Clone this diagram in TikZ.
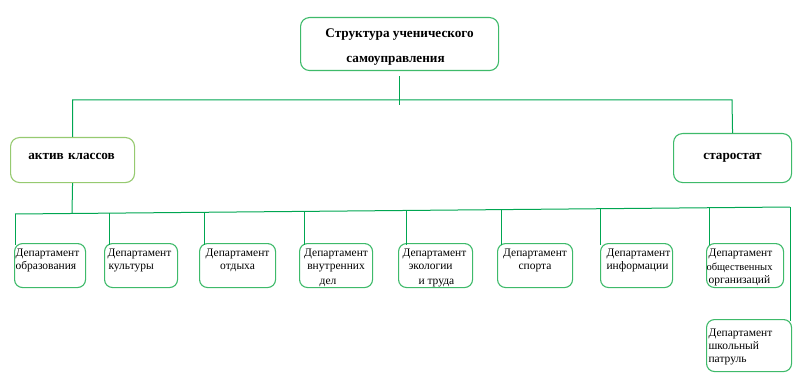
\documentclass[tikz,border=0pt]{standalone}
\usepackage{fontspec}
\setmainfont{Liberation Serif}
\definecolor{lgreen}{RGB}{0,166,81}
\definecolor{bgreen}{RGB}{62,186,106}
\definecolor{agreen}{RGB}{150,202,112}
\newcommand{\mybx}[3]{\parbox[c][#2][t]{#1}{#3}}
\newcommand{\dfont}{\fontsize{11.5}{12.5}\selectfont}
\tikzset{
  bx/.style={draw=bgreen, line width=1.1pt, rounded corners=9pt, inner sep=0pt, anchor=north west, fill=white},
  dept/.style={bx, rounded corners=8pt},
  conn/.style={draw=lgreen, line width=1pt},
}
\begin{document}
\begin{tikzpicture}[x=1pt,y=-1pt]
\useasboundingbox (0,0) rectangle (799,390);
% top level
\node[bx] (top) at (300,17) {\mybx{198pt}{53pt}{\centering\bfseries\fontsize{13.2}{25}\selectfont\rule{0pt}{20pt}Структура ученического\hspace*{10pt}\\самоуправления\hspace*{8pt}}};
\node[bx, draw=agreen] (active) at (10,137) {\mybx{124pt}{45pt}{\centering\bfseries\fontsize{13.2}{14}\selectfont\rule{0pt}{22pt}актив\hspace{1pt} классов\hspace*{2pt}}};
\node[bx] (staro) at (673,133) {\mybx{118pt}{49pt}{\centering\bfseries\fontsize{13.2}{14}\selectfont\rule{0pt}{26pt}старостат}};
% departments
\node[dept] (d1) at (14,243) {\mybx{71pt}{44pt}{\raggedright\dfont\rule{0pt}{13pt}\hspace*{1pt}Департамент\\\hspace*{1pt}образования}};
\node[dept] (d2) at (104,243) {\mybx{73pt}{44pt}{\raggedright\dfont\rule{0pt}{13pt}\hspace*{3pt}Департамент\\\hspace*{4pt}культуры}};
\node[dept] (d3) at (199,243) {\mybx{76pt}{44pt}{\centering\dfont\rule{0pt}{13pt}Департамент\\отдыха}};
\node[dept] (d4) at (299,243) {\mybx{73pt}{44pt}{\centering\dfont\rule{0pt}{13pt}Департамент\\внутренних\\[3pt]дел\hspace*{16pt}}};
\node[dept] (d5) at (398,243) {\mybx{74pt}{44pt}{\raggedright\dfont\rule{0pt}{13pt}\hspace*{4pt}Департамент\\\hspace*{10pt}экологии\\[3pt]\hspace*{20pt}и труда}};
\node[dept] (d6) at (497,243) {\mybx{75pt}{44pt}{\centering\dfont\rule{0pt}{13pt}Департамент\\спорта}};
\node[dept] (d7) at (600,243) {\mybx{72pt}{44pt}{\raggedright\dfont\rule{0pt}{13pt}\hspace*{6pt}Департамент\\\hspace*{6pt}информации}};
\node[dept] (d8) at (706,243) {\mybx{77pt}{44pt}{\raggedright\dfont\rule{0pt}{13pt}\hspace*{2pt}Департамент\\[1pt]{\fontsize{10.5}{12}\selectfont общественных}\\[1pt]\hspace*{2pt}организаций}};
\node[dept] (d9) at (706,319) {\mybx{85pt}{52pt}{\raggedright\dfont\rule{0pt}{17pt}\hspace*{2pt}Департамент\\\hspace*{2pt}школьный\\[1pt]\hspace*{2pt}патруль}};
% connectors upper
\coordinate (busR) at (732,100);
\draw[conn] ([yshift=-5pt]top.south) -- ([yshift=-5pt]top.south |- busR);
\draw[conn] (active.north) |- (busR) -- (staro.north);
% lower bus
\coordinate (v1) at (15,214);
\coordinate (va) at (72,213.5);
\coordinate (v2) at (109,213.2);
\coordinate (v3) at (204,212.3);
\coordinate (v4) at (304,211.4);
\coordinate (v5) at (406,210.5);
\coordinate (v6) at (501,209.6);
\coordinate (v7) at (600,208.7);
\coordinate (v8) at (709,207.7);
\coordinate (v9) at (790,207);
\draw[conn] (active.south) -- (va);
\draw[conn] (v1) -- (v9);
\foreach \i in {1,...,9}{
  \draw[conn] (v\i) -- ([yshift=-2pt]v\i |- d\i.north);
}
\end{tikzpicture}
\end{document}
